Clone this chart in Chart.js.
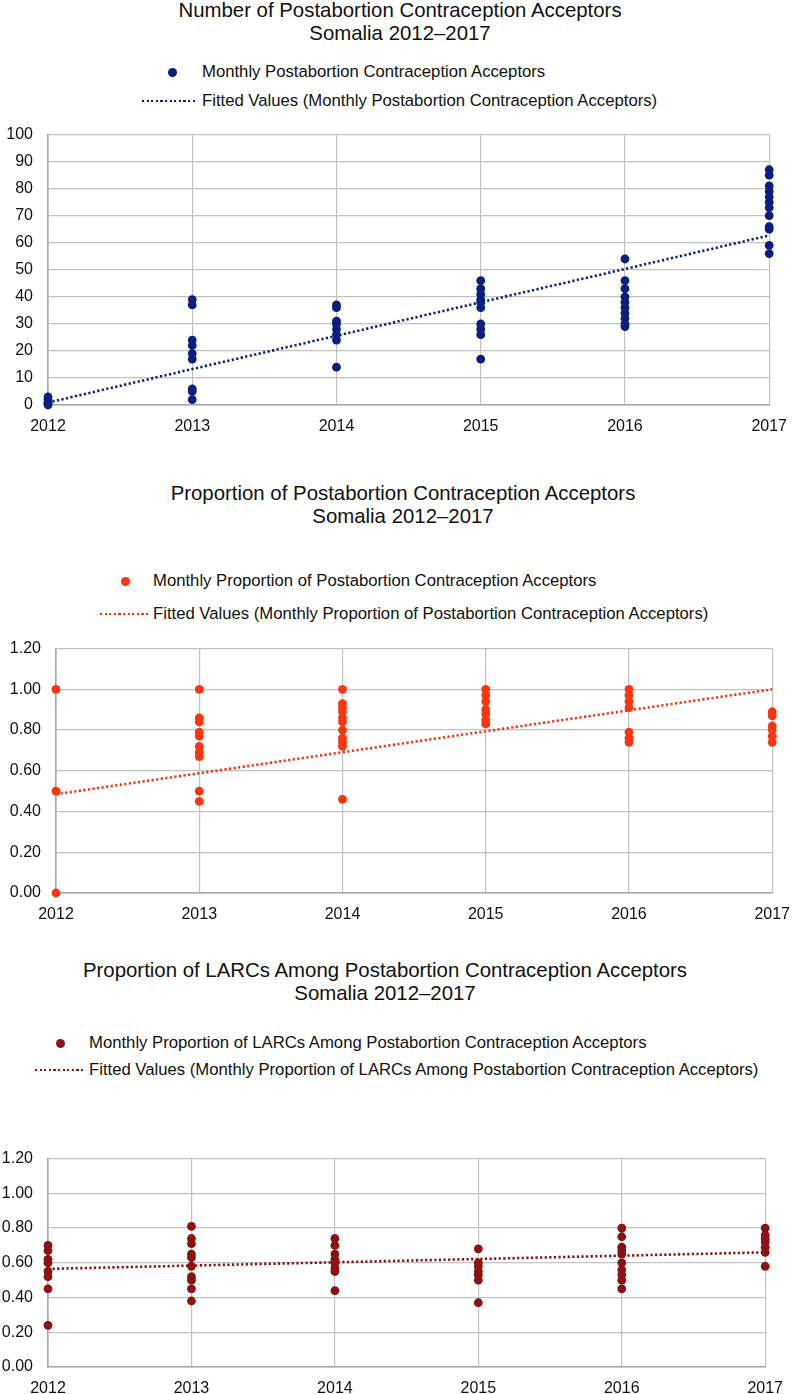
<!DOCTYPE html>
<html>
<head>
<meta charset="utf-8">
<script src="https://cdn.jsdelivr.net/npm/chart.js@4.4.1/dist/chart.umd.min.js"></script>
<style>
  html, body { margin: 0; padding: 0; background: #fff; }
  body { width: 792px; height: 1394px; position: relative; overflow: hidden;
         font-family: "Liberation Sans", Arial, sans-serif; color: #111; }
  canvas { position: absolute; left: 0; }
  .title { position: absolute; font-size: 20.4px; line-height: 22.5px; text-align: center; white-space: nowrap; }
  .lg { position: absolute; font-size: 16.7px; line-height: 20px; height: 20px; white-space: nowrap; }
  .dot { position: absolute; width: 9px; height: 9px; border-radius: 50%; }
  .dash { position: absolute; height: 2.6px; }
</style>
</head>
<body>
<!-- Chart 1 -->
<div class="title" id="t1" style="top:-1px; left:0; width:800px;">Number of Postabortion Contraception Acceptors<br>Somalia 2012–2017</div>
<div id="lg1"></div>
<canvas id="c1" width="799" height="330" style="top:110px"></canvas>
<!-- Chart 2 -->
<div class="title" id="t2" style="top:482px; left:0; width:806px;">Proportion of Postabortion Contraception Acceptors<br>Somalia 2012–2017</div>
<div id="lg2"></div>
<canvas id="c2" width="802" height="304" style="top:624px"></canvas>
<!-- Chart 3 -->
<div class="title" id="t3" style="top:959px; left:0; width:770px;">Proportion of LARCs Among Postabortion Contraception Acceptors<br>Somalia 2012–2017</div>
<div id="lg3"></div>
<canvas id="c3" width="795" height="260" style="top:1134px"></canvas>

<script>
// ---------------- DATA ----------------
const years = [2012, 2013, 2014, 2015, 2016, 2017];
const yearTickLabels = ['2012', '2013', '2014', '2015', '2016', '2017'];

// Chart 1: monthly number of postabortion contraception acceptors (one list per year)
const acceptorsByYear = [
  [0, 0.5, 1, 2, 3],
  [39, 37, 24, 22, 19, 17, 6, 5, 2],
  [37, 36, 31, 30, 28, 26, 24, 14],
  [46, 43, 41, 39, 38, 36, 30, 28, 26, 17],
  [54, 46, 43, 40, 38, 36, 34, 32, 30, 29],
  [87, 85, 81, 79, 77, 75, 73, 70, 66, 65, 59, 56]
];
const acceptorsFitted = [0.9, 13.3, 25.6, 38.0, 50.3, 62.7];

// Chart 2: monthly proportion of postabortion contraception acceptors
const proportionByYear = [
  [1.0, 0.5, 0.0],
  [1.0, 0.86, 0.84, 0.79, 0.77, 0.72, 0.69, 0.67, 0.50, 0.45],
  [1.0, 0.93, 0.91, 0.89, 0.86, 0.84, 0.80, 0.76, 0.74, 0.72, 0.46],
  [1.0, 0.97, 0.94, 0.90, 0.88, 0.85, 0.83],
  [1.0, 0.97, 0.94, 0.91, 0.79, 0.76, 0.74],
  [0.89, 0.87, 0.82, 0.80, 0.77, 0.74]
];
const proportionFitted = [0.485, 0.588, 0.691, 0.794, 0.897, 1.0];

// Chart 3: monthly proportion of LARCs among postabortion contraception acceptors
const larcByYear = [
  [0.70, 0.67, 0.62, 0.60, 0.55, 0.52, 0.45, 0.24],
  [0.81, 0.74, 0.71, 0.65, 0.63, 0.58, 0.52, 0.50, 0.45, 0.38],
  [0.74, 0.70, 0.65, 0.62, 0.60, 0.57, 0.55, 0.44],
  [0.68, 0.60, 0.58, 0.55, 0.53, 0.50, 0.37],
  [0.80, 0.75, 0.69, 0.67, 0.65, 0.60, 0.56, 0.53, 0.50, 0.45],
  [0.80, 0.76, 0.74, 0.72, 0.69, 0.66, 0.58]
];
const larcFitted = [0.565, 0.584, 0.603, 0.622, 0.641, 0.66];

// Labels
const legend1 = ['Monthly Postabortion Contraception Acceptors',
                 'Fitted Values (Monthly Postabortion Contraception Acceptors)'];
const legend2 = ['Monthly Proportion of Postabortion Contraception Acceptors',
                 'Fitted Values (Monthly Proportion of Postabortion Contraception Acceptors)'];
const legend3 = ['Monthly Proportion of LARCs Among Postabortion Contraception Acceptors',
                 'Fitted Values (Monthly Proportion of LARCs Among Postabortion Contraception Acceptors)'];

// ---------------- HELPERS ----------------
function toPoints(byYear) {
  const pts = [];
  byYear.forEach((vals, i) => vals.forEach(v => pts.push({ x: years[i], y: v })));
  return pts;
}
function fitPoints(vals) {
  return vals.map((v, i) => ({ x: years[i], y: v }));
}

function buildLegend(id, labels, color, dotX, textX, row1Y, row2Y, dashX0, dashX1) {
  const el = document.getElementById(id);
  el.innerHTML =
    `<span class="dot" style="left:${dotX - 4.5}px; top:${row1Y - 4.5}px; background:${color}"></span>` +
    `<div class="lg" style="left:${textX}px; top:${row1Y - 10}px">${labels[0]}</div>` +
    `<span class="dash" style="left:${dashX0}px; top:${row2Y - 1.3}px; width:${dashX1 - dashX0}px;` +
    `background: repeating-linear-gradient(to right, ${color} 0 2.2px, transparent 2.2px 4.6px)"></span>` +
    `<div class="lg" style="left:${textX}px; top:${row2Y - 10}px">${labels[1]}</div>`;
}

function makeChart(id, o) {
  const ctx = document.getElementById(id);
  return new Chart(ctx, {
    type: 'scatter',
    data: {
      datasets: [
        {
          type: 'line',
          label: o.labels[1],
          data: fitPoints(o.fitted),
          borderColor: o.color,
          borderWidth: 2.6,
          borderDash: [2.2, 2.4],
          pointRadius: 0,
          fill: false,
          tension: 0,
          order: 0,
          clip: false
        },
        {
          label: o.labels[0],
          data: toPoints(o.values),
          backgroundColor: o.color,
          borderWidth: 0,
          pointRadius: 4.4,
          pointHoverRadius: 4.4,
          order: 1,
          clip: false
        }
      ]
    },
    options: {
      responsive: false,
      animation: false,
      events: [],
      layout: { padding: { top: 10, right: 20, left: 0, bottom: 0 } },
      plugins: { legend: { display: false }, title: { display: false }, tooltip: { enabled: false } },
      scales: {
        x: {
          type: 'linear',
          min: 2012, max: 2017,
          afterFit: s => { s.height = o.xAxisH; },
          grid: { color: '#c2c2c2', lineWidth: 1.2, drawTicks: false },
          border: { color: '#a8a8a8', width: 1.6 },
          ticks: {
            stepSize: 1,
            padding: 12,
            color: '#111',
            font: { family: '"Liberation Sans", Arial, sans-serif', size: 16 },
            callback: v => { const i = years.indexOf(v); return i >= 0 ? yearTickLabels[i] : ''; }
          }
        },
        y: {
          min: o.yMin, max: o.yMax,
          afterFit: s => { s.width = o.yAxisW; },
          grid: { color: '#c2c2c2', lineWidth: 1.2, drawTicks: false },
          border: { color: '#a8a8a8', width: 1.6 },
          ticks: {
            stepSize: o.yStep,
            padding: 15,
            color: '#111',
            font: { family: '"Liberation Sans", Arial, sans-serif', size: 16 },
            callback: v => o.fmt(v)
          }
        }
      }
    }
  });
}

// ---------------- BUILD ----------------
buildLegend('lg1', legend1, '#0c1f7e', 172, 202, 72, 101, 142, 196);
buildLegend('lg2', legend2, '#fb3510', 125, 153, 581, 614, 100, 148);
buildLegend('lg3', legend3, '#8c1313', 60, 89, 1043, 1070, 35, 83);

makeChart('c1', {
  values: acceptorsByYear, fitted: acceptorsFitted, labels: legend1, color: '#0c1f7e',
  yMin: 0, yMax: 100, yStep: 10, fmt: v => String(Math.round(v)),
  yAxisW: 48, xAxisH: 35
});
makeChart('c2', {
  values: proportionByYear, fitted: proportionFitted, labels: legend2, color: '#fb3510',
  yMin: 0, yMax: 1.2, yStep: 0.2, fmt: v => v.toFixed(2),
  yAxisW: 56, xAxisH: 35
});
makeChart('c3', {
  values: larcByYear, fitted: larcFitted, labels: legend3, color: '#8c1313',
  yMin: 0, yMax: 1.2, yStep: 0.2, fmt: v => v.toFixed(2),
  yAxisW: 48, xAxisH: 27
});
</script>
</body>
</html>
